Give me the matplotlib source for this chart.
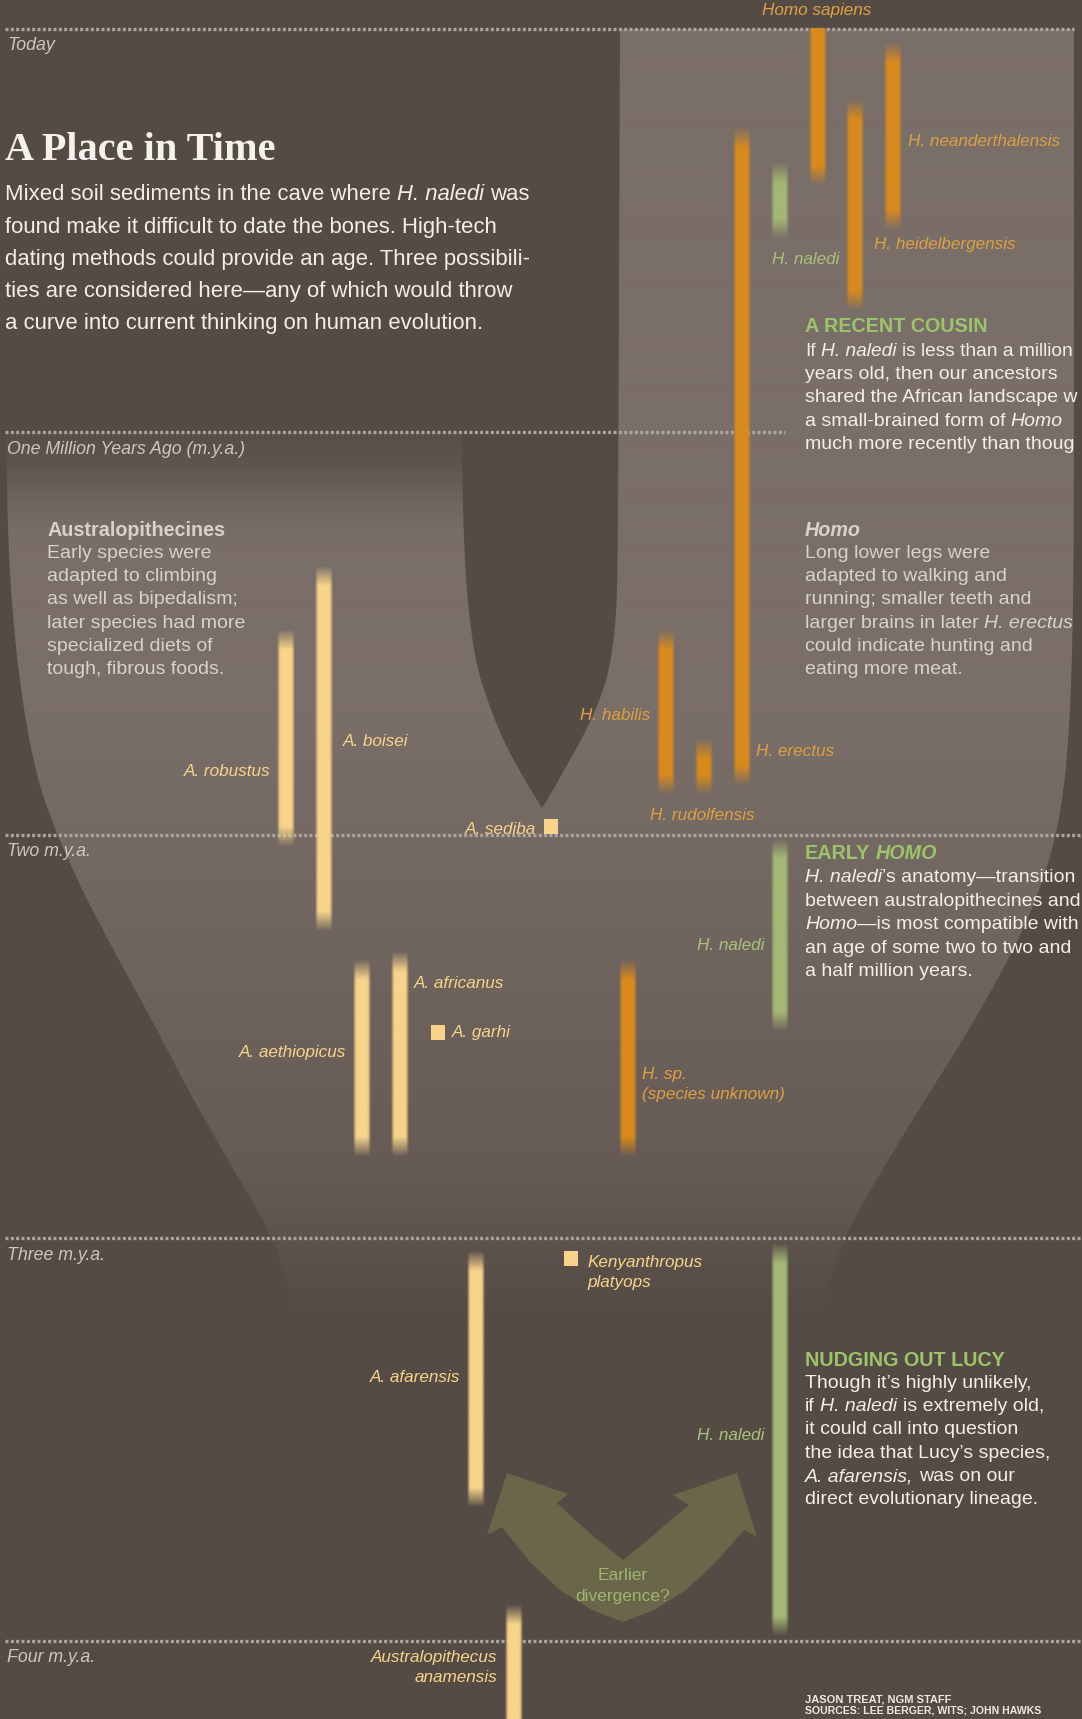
import numpy as np
import matplotlib
matplotlib.use("Agg")
import matplotlib.pyplot as plt
from matplotlib.path import Path
from matplotlib.patches import PathPatch, Polygon, Rectangle
from matplotlib.colors import to_rgb

# ------------------------------------------------------------------ data
time_marks = [0, 1, 2, 3, 4]
time_labels = ["Today", "One Million Years Ago (m.y.a.)", "Two m.y.a.",
               "Three m.y.a.", "Four m.y.a."]

homo_names = ["Homo sapiens", "H. neanderthalensis", "H. heidelbergensis",
              "H. erectus", "H. habilis", "H. rudolfensis",
              "H. sp.\n(species unknown)"]
homo_start = [0.00, 0.035, 0.175, 0.24, 1.49, 1.76, 2.31]   # m.y.a.
homo_end = [0.39, 0.50, 0.70, 1.88, 1.90, 1.90, 2.80]

naledi_name = "H. naledi"
naledi_scenarios = ["A RECENT COUSIN", "EARLY HOMO", "NUDGING OUT LUCY"]
naledi_start = [0.33, 2.01, 3.01]
naledi_end = [0.52, 2.49, 3.99]

austral_names = ["A. robustus", "A. boisei", "A. aethiopicus", "A. africanus",
                 "A. afarensis", "Australopithecus\nanamensis"]
austral_start = [1.49, 1.33, 2.31, 2.29, 3.03, 3.91]
austral_end = [2.03, 2.24, 2.80, 2.80, 3.67, 4.30]

point_names = ["A. sediba", "A. garhi", "Kenyanthropus\nplatyops"]
point_age = [1.98, 2.49, 3.05]

# ------------------------------------------------------------------ layout / style
W, H = 1082, 1719
PX0, PXM = 29.0, 403.0          # pixel row of "Today", pixels per million years


def Y(px):
    return (np.asarray(px, dtype=float) - PX0) / PXM


SANS = "Liberation Sans"
SERIF = "Liberation Serif"
DARK = (85, 75, 69)
LIGHT = (122, 110, 104)
ORANGE_BAR = "#d98a1c"
PALE_BAR = "#f7d48a"
GREEN_BAR = "#a3b872"
ORANGE_TXT = "#dea042"
PALE_TXT = "#f6d48a"
GREEN_TXT = "#a9c27a"
GREEN_HEAD = "#9cc56a"
WHITE = "#f2eee9"
GREY_TXT = "#d8d2cd"
AXIS_TXT = "#cdc6c0"

homo_x = [818, 893, 855, 742, 666, 704, 628]
homo_lab = [("c", 817, 10), ("l", 908, 141), ("l", 874, 244), ("l", 756, 751),
            ("r", 650, 715), ("l", 650, 816), ("l", 642, 1074)]
naledi_x = 780
naledi_lab = [("l", 772, 259), ("r", 764, 946), ("r", 764, 1435)]
austral_x = [286, 324, 362, 400, 476, 514]
austral_lab = [("r", 270, 772), ("l", 343, 742), ("r", 346, 1053), ("l", 414, 984),
               ("r", 460, 1377), ("r", 497, 1657)]
point_x = [551, 438, 571]
point_lab = [("r", 536, 829), ("l", 452, 1032), ("l", 587, 1262)]
LAB_SIZE = 12.3
BODY = 14.0
HEAD = 14.2
LINE = 23.4

fig = plt.figure(figsize=(W / 100, H / 100), dpi=100)
fig.patch.set_facecolor(np.array(DARK) / 255)
ax = fig.add_axes([0, 0, 1, 1])
ax.axis("off")


def chaikin(pts, n=3):
    p = np.array(pts, dtype=float)
    for _ in range(n):
        q = [p[0]]
        for a, b in zip(p[:-1], p[1:]):
            q.append(0.75 * a + 0.25 * b)
            q.append(0.25 * a + 0.75 * b)
        q.append(p[-1])
        p = np.array(q)
    return p


# ------------------------------------------------------------------ background funnel
outer = [(1074, 29), (1074, 500), (1073, 620), (1070, 720), (1063, 800),
         (1050, 860), (1028, 920), (1000, 975), (966, 1035), (928, 1095),
         (888, 1160), (850, 1225), (826, 1285), (815, 1370),
         (302, 1370), (292, 1290), (268, 1228), (228, 1160), (188, 1090),
         (152, 1020), (115, 953), (82, 890), (55, 830), (36, 775), (22, 700),
         (13, 620), (8, 540), (6, 432)]
notch_left = [(462, 432), (463, 520), (467, 600), (476, 665), (489, 705),
              (503, 740), (519, 770), (532, 792), (542, 808)]
notch_right = [(542, 808), (553, 790), (566, 767), (585, 733), (600, 700),
               (610, 667), (616, 620), (618, 560), (620, 29)]
outline = np.vstack([chaikin(outer), chaikin(notch_left), chaikin(notch_right)])
verts = [(x, float(Y(y))) for x, y in outline]
funnel = PathPatch(Path(verts + [verts[0]], closed=True), facecolor="none",
                   edgecolor="none", transform=ax.transData)
ax.add_patch(funnel)

nx, ny = 541, 860
xs = (np.arange(nx) + 0.5) * W / nx
ts = Y((np.arange(ny) + 0.5) * H / ny)
kt = [-1, 1.7, 2.85, 3.0, 3.2, 5]
kc = [LIGHT, LIGHT, (102, 90, 84), (93, 82, 76), DARK, DARK]
img = np.zeros((ny, nx, 3))
for c in range(3):
    img[:, :, c] = np.interp(ts, kt, [k[c] for k in kc])[:, None]
f = np.clip((ts - 1.0) / 0.28, 0, 1)
f = 0.12 + 0.88 * (f * f * (3 - 2 * f))
left = xs < 545
dark = np.array(DARK, dtype=float)
img[:, left, :] = dark + (img[:, left, :] - dark) * f[:, None, None]
im = ax.imshow(img / 255, extent=(0, W, float(Y(H)), float(Y(0))),
               interpolation="bilinear", aspect="auto", zorder=0)
im.set_clip_path(funnel)

# "Earlier divergence?" double arrow
arrow_pts = [(623, 1622), (592, 1610), (560, 1590), (530, 1562), (502, 1527),
             (487, 1535), (507, 1473), (568, 1494), (557, 1503), (575, 1520),
             (598, 1540), (623, 1560), (648, 1540), (671, 1520), (689, 1505),
             (673, 1495), (737, 1473), (757, 1537), (744, 1530), (716, 1562),
             (686, 1590), (654, 1610)]
ax.add_patch(Polygon([(x, float(Y(y))) for x, y in arrow_pts], closed=True,
                     facecolor="#6a6649", edgecolor="none", zorder=1))
ax.text(623, float(Y(1575)), "Earlier", ha="center", va="center", fontsize=12.5,
        color="#9fb56c", family=SANS, zorder=6)
ax.text(623, float(Y(1596)), "divergence?", ha="center", va="center",
        fontsize=12.5, color="#9fb56c", family=SANS, zorder=6)

# ------------------------------------------------------------------ time lines
line_ends = [1074, 785, 1080, 1080, 1080]
for t, lab, xe in zip(time_marks, time_labels, line_ends):
    ax.plot([5, xe], [t, t], color="#aca59f", lw=2.4, ls=(0, (0.9, 0.7)),
            zorder=2, solid_capstyle="butt")
    ax.text(7, t + 17 / PXM, lab, ha="left", va="center", fontsize=12.8,
            style="italic", color=AXIS_TXT, family=SANS, zorder=6)


# ------------------------------------------------------------------ bars
def draw_bar(x, t0, t1, color, width=14, fade_px=20, sharp_top=False):
    n = 240
    length = (t1 - t0) * PXM
    s = np.linspace(0, length, n)
    fl = min(fade_px, length / 2)
    top = np.ones(n) if sharp_top else s / fl
    a = np.clip(np.minimum(top, (length - s) / fl), 0, 1)
    prof = np.array([0.0, 0.35, 0.85, 1, 1, 1, 1, 1, 1, 1, 1, 0.85, 0.35, 0.0])
    rgba = np.zeros((n, len(prof), 4))
    rgba[..., :3] = to_rgb(color)
    rgba[..., 3] = a[:, None] * prof[None, :]
    half = width / 2 + 3
    ax.imshow(rgba, extent=(x - half, x + half, t1, t0), interpolation="bilinear",
              aspect="auto", zorder=5)


def label(spec, text, color):
    ha = {"l": "left", "r": "right", "c": "center"}[spec[0]]
    for i, line in enumerate(text.split("\n")):
        ax.text(spec[1], float(Y(spec[2] + 21 * i)), line, ha=ha, va="center",
                fontsize=LAB_SIZE, style="italic", color=color, family=SANS,
                zorder=6)


for i, name in enumerate(homo_names):
    draw_bar(homo_x[i], homo_start[i], homo_end[i], ORANGE_BAR, sharp_top=(i == 0))
    label(homo_lab[i], name, ORANGE_TXT)
for i in range(len(naledi_start)):
    draw_bar(naledi_x, naledi_start[i], naledi_end[i], GREEN_BAR)
    label(naledi_lab[i], naledi_name, GREEN_TXT)
for i, name in enumerate(austral_names):
    draw_bar(austral_x[i], austral_start[i], austral_end[i], PALE_BAR)
    label(austral_lab[i], name, PALE_TXT)
for i, name in enumerate(point_names):
    ax.add_patch(Rectangle((point_x[i] - 7, point_age[i] - 7.5 / PXM), 14, 15 / PXM,
                           facecolor=PALE_BAR, edgecolor="none", zorder=5))
    label(point_lab[i], name, PALE_TXT)


# ------------------------------------------------------------------ text blocks
def rich(x, ypx, parts, size, color, weight="normal", family=SANS):
    txt0, st0 = parts[0]
    prev = ax.text(x, float(Y(ypx)), txt0.rstrip(), fontsize=size, color=color,
                   style=st0, weight=weight, family=family, ha="left",
                   va="center", zorder=6)
    prev_txt = txt0
    for txt, st in parts[1:]:
        gap = 0.278 * size if (prev_txt.endswith(" ") or txt.startswith(" ")) else 0.0
        prev = ax.annotate(txt.strip(), xy=(1, 0), xycoords=prev,
                           xytext=(gap, 0), textcoords="offset points",
                           fontsize=size, color=color, style=st, weight=weight,
                           family=family, ha="left", va="bottom", zorder=6,
                           annotation_clip=False)
        prev_txt = txt


def para(x, y0, lines, size, color, step):
    for i, ln in enumerate(lines):
        parts = ln if isinstance(ln, list) else [(ln, "normal")]
        sz = size
        if isinstance(ln, tuple):
            parts, sz = ln
        rich(x, y0 + step * i, parts, sz, color)


N, I = "normal", "italic"
ax.text(5, float(Y(151)), "A Place in Time", fontsize=29, weight="bold",
        family=SERIF, color="#f5f1ec", ha="left", va="center", zorder=6)
para(5, 195, [
    [("Mixed soil sediments in the cave where ", N), ("H. naledi", I), (" was", N)],
    "found make it difficult to date the bones. High-tech",
    "dating methods could provide an age. Three possibili-",
    "ties are considered here\u2014any of which would throw",
    "a curve into current thinking on human evolution.",
], 15.9, WHITE, 32.0)

# A recent cousin (text runs off the right edge in the original; visible part kept)
rich(805, 327, [(naledi_scenarios[0], N)], HEAD, GREEN_HEAD, weight="bold")
para(805, 351, [
    ([("If ", N), ("H. naledi", I), (" is less than a million", N)], 13.75),
    "years old, then our ancestors",
    "shared the African landscape w",
    [("a small-brained form of ", N), ("Homo", I)],
    "much more recently than thoug",
], BODY, WHITE, LINE)

# Homo
rich(805, 530, [("Homo", I)], HEAD, GREY_TXT, weight="bold")
para(805, 553, [
    "Long lower legs were",
    "adapted to walking and",
    "running; smaller teeth and",
    [("larger brains in later ", N), ("H. erectus", I)],
    "could indicate hunting and",
    "eating more meat.",
], BODY, GREY_TXT, LINE)

# Australopithecines
rich(47, 530, [("Australopithecines", N)], HEAD, GREY_TXT, weight="bold")
para(47, 553, [
    "Early species were",
    "adapted to climbing",
    "as well as bipedalism;",
    "later species had more",
    "specialized diets of",
    "tough, fibrous foods.",
], BODY, GREY_TXT, LINE)

# Early Homo
rich(805, 853, [("EARLY ", N), ("HOMO", I)], HEAD, GREEN_HEAD, weight="bold")
para(805, 878, [
    [("H. naledi", I), ("\u2019s anatomy\u2014transition", N)],
    "between australopithecines and",
    [("Homo", I), ("\u2014is most compatible with", N)],
    "an age of some two to two and",
    "a half million years.",
], BODY, WHITE, LINE)

# Nudging out Lucy
rich(805, 1360, [(naledi_scenarios[2], N)], HEAD, GREEN_HEAD, weight="bold")
para(805, 1383, [
    "Though it\u2019s highly unlikely,",
    [("if ", N), ("H. naledi", I), (" is extremely old,", N)],
    "it could call into question",
    "the idea that Lucy\u2019s species,",
    [("A. afarensis,", I), (" was on our", N)],
    "direct evolutionary lineage.",
], BODY, WHITE, LINE)

# credits
ax.text(805, float(Y(1699)), "JASON TREAT, NGM STAFF", fontsize=8.0, weight="bold",
        family=SANS, color="#ece8e3", ha="left", va="center", zorder=6)
ax.text(805, float(Y(1711)), "SOURCES: LEE BERGER, WITS; JOHN HAWKS",
        fontsize=7.6, weight="bold", family=SANS, color="#ece8e3", ha="left",
        va="center", zorder=6)

ax.set_xlim(0, W)
ax.set_ylim(float(Y(H)), float(Y(0)))
fig.savefig("out.png", dpi=100, facecolor=fig.get_facecolor())
